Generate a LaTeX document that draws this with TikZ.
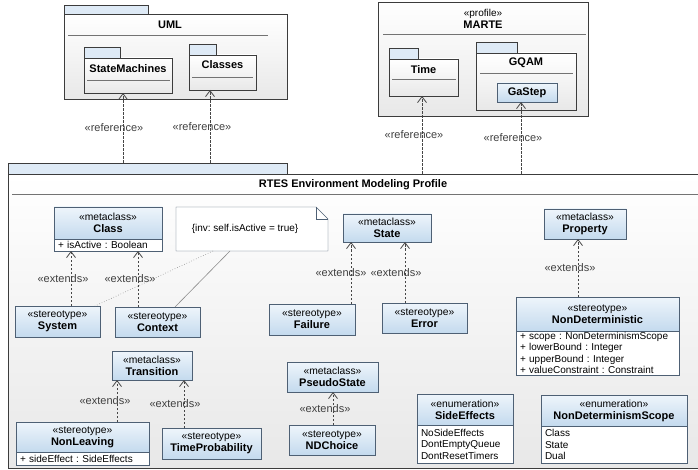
\documentclass[tikz,border=0pt]{standalone}
\usepackage{fontspec}
\setmainfont{Liberation Sans}
\usetikzlibrary{positioning,arrows.meta,calc}
\frenchspacing
\definecolor{boxline}{RGB}{78,96,116}
\definecolor{pkgline}{RGB}{60,60,60}
\definecolor{hdrtop}{RGB}{238,245,251}
\definecolor{hdrbot}{RGB}{196,218,238}
\definecolor{tabfill}{RGB}{222,234,246}
\definecolor{depgray}{RGB}{70,70,70}
\definecolor{notegray}{RGB}{140,140,140}
\newcommand{\stereo}[1]{{\fontsize{10.3}{12}\selectfont«#1»}}
\newcommand{\elname}[1]{{\bfseries\fontsize{11}{12}\selectfont #1}}
\tikzset{
  pkgbody/.style={rectangle,draw=pkgline,top color=white,bottom color=black!9,anchor=north west,inner sep=0pt,outer sep=0pt},
  pkgtab/.style={rectangle,draw=pkgline,fill=tabfill,anchor=south west,inner sep=0pt,outer sep=0pt},
  pkgtitle/.style={font=\bfseries\fontsize{11}{12}\selectfont,inner sep=0pt},
  sepline/.style={draw=black!55,line width=0.9pt},
  metabox/.style={rectangle,draw=boxline,top color=hdrtop,bottom color=hdrbot,align=center,inner sep=0pt,outer sep=0pt,font=\fontsize{10}{12}\selectfont},
  attrbox/.style={rectangle,draw=boxline,fill=white,anchor=north west,align=left,inner xsep=4pt,inner ysep=0pt,outer sep=0pt,font=\fontsize{10}{11.5}\selectfont},
  notebox/.style={rectangle,inner sep=0pt,outer sep=0pt,font=\fontsize{10}{12}\selectfont},
  dep/.style={draw=depgray,line width=0.8pt,dash pattern=on 2.5pt off 1.5pt,-{Straight Barb[length=6pt,width=9pt]}},
  deplabel/.style={font=\fontsize{11}{12}\selectfont,text=black!75,inner sep=1pt},
  notelink/.style={draw=notegray,line width=0.6pt}
}

\begin{document}
\begin{tikzpicture}[x=1pt,y=-1pt]
  \useasboundingbox (0,0) rectangle (698,470);

  % profile package
  \node[pkgbody,minimum width=694pt,minimum height=294pt] (rtes) at (8,174) {};
  \node[pkgtab,minimum width=279pt,minimum height=11pt] (rtestab) at (rtes.north west) {};
  \node[pkgtitle] (rtestitle) at (353,185) {RTES Environment Modeling Profile};
  \draw[sepline] (12,194) -- (698,194);

  % UML
  \node[pkgbody,minimum width=223pt,minimum height=85pt] (uml) at (64,14) {};
  \node[pkgtab,minimum width=84pt,minimum height=9pt] (umltab) at (uml.north west) {};
  \node[pkgtitle] (umltitle) at (170,25) {UML};
  \draw[sepline] (68,35) -- (268,35);
  \node[pkgbody,minimum width=88pt,minimum height=35pt] (sm) at (84,58) {};
  \node[pkgtab,minimum width=36pt,minimum height=11pt] (smtab) at (sm.north west) {};
  \node[pkgtitle] (smtitle) at (128,69) {StateMachines};
  \draw[sepline] (87,80) -- (170,80);
  \node[pkgbody,minimum width=67pt,minimum height=35pt] (classes) at (189,55) {};
  \node[pkgtab,minimum width=27pt,minimum height=11pt] (classestab) at (classes.north west) {};
  \node[pkgtitle] (classestitle) at (222.5,65) {Classes};
  \draw[sepline] (192,77) -- (253,77);

  % MARTE
  \node[pkgbody,minimum width=210pt,minimum height=114pt] (marte) at (378,2) {};
  \node[font=\fontsize{10}{12}\selectfont,align=center,inner sep=0pt] (martetitle) at (483,19) {«profile»\\\elname{MARTE}};
  \draw[sepline] (383,34) -- (586,34);
  \node[pkgbody,minimum width=69pt,minimum height=37pt] (time) at (389,59) {};
  \node[pkgtab,minimum width=29pt,minimum height=11pt] (timetab) at (time.north west) {};
  \node[pkgtitle] (timetitle) at (423.5,70) {Time};
  \draw[sepline] (392,79) -- (456,79);
  \node[pkgbody,minimum width=100pt,minimum height=57pt] (gqam) at (476,53) {};
  \node[pkgtab,minimum width=41pt,minimum height=11pt] (gqamtab) at (gqam.north west) {};
  \node[pkgtitle] (gqamtitle) at (526,63) {GQAM};
  \draw[sepline] (480,73) -- (573,73);
  \node[metabox,minimum width=60pt,minimum height=19pt] (gastep) at (527,92.5) {\elname{GaStep}};

  % metaclasses and stereotypes
  \node[metabox,minimum width=108pt,minimum height=32pt] (cls) at (108,223) {\stereo{metaclass}\\\elname{Class}};
  \node[attrbox,text width=100pt,minimum height=12pt] (clsattr) at (cls.south west) {+ isActive : Boolean};
  \node[metabox,minimum width=85pt,minimum height=31pt] (sys) at (57.5,321.5) {\stereo{stereotype}\\\elname{System}};
  \node[metabox,minimum width=85pt,minimum height=30pt] (ctx) at (157.5,322) {\stereo{stereotype}\\\elname{Context}};
  \node[metabox,minimum width=88pt,minimum height=28pt] (state) at (387,228) {\stereo{metaclass}\\\elname{State}};
  \node[metabox,minimum width=86pt,minimum height=31pt] (fail) at (312,319.5) {\stereo{stereotype}\\\elname{Failure}};
  \node[metabox,minimum width=85pt,minimum height=30pt] (err) at (424.5,318) {\stereo{stereotype}\\\elname{Error}};
  \node[metabox,minimum width=82pt,minimum height=30pt] (prop) at (585,224) {\stereo{metaclass}\\\elname{Property}};
  \node[metabox,minimum width=163pt,minimum height=34pt] (nondet) at (597.5,314) {\stereo{stereotype}\\\elname{NonDeterministic}};
  \node[attrbox,text width=155pt,minimum height=44pt] (nondetattr) at (nondet.south west)
    {+ scope : NonDeterminismScope\\+ lowerBound : Integer\\+ upperBound : Integer\\+ valueConstraint : Constraint};
  \node[metabox,minimum width=80pt,minimum height=29pt] (trans) at (152,365.5) {\stereo{metaclass}\\\elname{Transition}};
  \node[metabox,minimum width=133pt,minimum height=30pt] (nonleav) at (82.5,437) {\stereo{stereotype}\\\elname{NonLeaving}};
  \node[attrbox,text width=125pt,minimum height=13pt] (nonleavattr) at (nonleav.south west) {+ sideEffect : SideEffects};
  \node[metabox,minimum width=99pt,minimum height=31pt] (timeprob) at (211.5,443.5) {\stereo{stereotype}\\\elname{TimeProbability}};
  \node[metabox,minimum width=91pt,minimum height=30pt] (pseudo) at (332.5,377) {\stereo{metaclass}\\\elname{PseudoState}};
  \node[metabox,minimum width=86pt,minimum height=30pt] (ndch) at (332,440) {\stereo{stereotype}\\\elname{NDChoice}};
  \node[metabox,minimum width=96pt,minimum height=31pt] (sidefx) at (465,409.5) {\stereo{enumeration}\\\elname{SideEffects}};
  \node[attrbox,text width=88pt,minimum height=38pt] (sidefxlit) at (sidefx.south west) {NoSideEffects\\DontEmptyQueue\\DontResetTimers};
  \node[metabox,minimum width=146pt,minimum height=31pt] (ndscope) at (614,410.5) {\stereo{enumeration}\\\elname{NonDeterminismScope}};
  \node[attrbox,text width=138pt,minimum height=37pt] (ndscopelit) at (ndscope.south west) {Class\\State\\Dual};

  % constraint note
  \node[notebox,minimum width=152pt,minimum height=44pt] (note) at (252,229) {};
  \draw[boxline,fill=white] (note.south west) -- (note.north west) -- ([xshift=-12pt]note.north east)
    -- ([yshift=-12pt]note.north east) -- (note.south east) -- cycle;
  \draw[boxline] ([xshift=-12pt]note.north east) -- ([xshift=-12pt,yshift=-12pt]note.north east) -- ([yshift=-12pt]note.north east);
  \node[font=\fontsize{10}{12}\selectfont] (notetext) at ([xshift=-7pt]note.center) {\{inv: self.isActive = true\}};
  \draw[notelink,dotted] ([xshift=-39pt]note.south) -- ([xshift=-5pt]sys.north east);
  \draw[notelink] ([xshift=-22pt]note.south) -- ([xshift=-25pt]ctx.north east);

  % references
  \draw[dep] ([xshift=-24.5pt]rtestab.north) -- node[deplabel,xshift=-9pt]{«reference»} ([xshift=-24.5pt]rtestab.north |- sm.south);
  \draw[dep] ([xshift=62.5pt]rtestab.north) -- node[deplabel,xshift=-8pt]{«reference»} ([xshift=62.5pt]rtestab.north |- classes.south);
  \draw[dep] ([xshift=67pt]rtes.north) -- node[deplabel,xshift=-8pt]{«reference»} ([xshift=67pt]rtes.north |- time.south);
  \draw[dep] ([xshift=166pt]rtes.north) -- node[deplabel,xshift=-8pt]{«reference»} ([xshift=166pt]rtes.north |- gastep.south);

  % extensions
  \draw[dep] ([xshift=13.5pt]sys.north) -- node[deplabel,xshift=-8pt]{«extends»} ([xshift=13.5pt]sys.north |- clsattr.south);
  \draw[dep] ([xshift=-19.5pt]ctx.north) -- node[deplabel,xshift=-8pt]{«extends»} ([xshift=-19.5pt]ctx.north |- clsattr.south);
  \draw[dep] ([xshift=39pt]fail.north) -- node[deplabel,xshift=-10pt]{«extends»} ([xshift=39pt]fail.north |- state.south);
  \draw[dep] ([xshift=-19.5pt]err.north) -- node[deplabel,xshift=-9pt]{«extends»} ([xshift=-19.5pt]err.north |- state.south);
  \draw[dep] ([xshift=-19.5pt]nondet.north) -- node[deplabel,xshift=-8pt]{«extends»} ([xshift=-19.5pt]nondet.north |- prop.south);
  \draw[dep] ([xshift=34.5pt]nonleav.north) -- node[deplabel,xshift=-12pt]{«extends»} ([xshift=34.5pt]nonleav.north |- trans.south);
  \draw[dep] ([xshift=-27.5pt]timeprob.north) -- node[deplabel,xshift=-9pt]{«extends»} ([xshift=-27.5pt]timeprob.north |- trans.south);
  \draw[dep] ([xshift=1pt]ndch.north) -- node[deplabel,xshift=-8pt]{«extends»} ([xshift=1pt]ndch.north |- pseudo.south);
\end{tikzpicture}
\end{document}
